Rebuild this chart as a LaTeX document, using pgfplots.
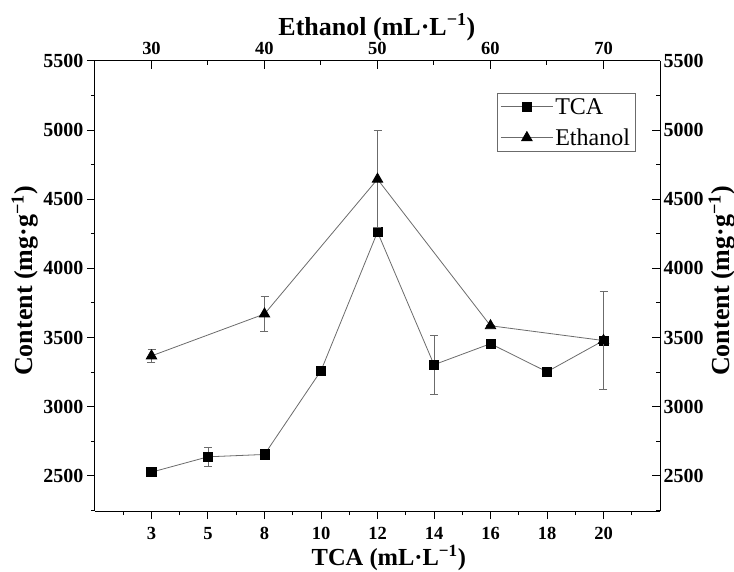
\documentclass[border=0pt]{standalone}
\usepackage{fontspec}
\setmainfont{Liberation Serif}
\usepackage{pgfplots}
\pgfplotsset{compat=1.18}
\definecolor{lc}{gray}{0.42}

\begin{document}
\begin{tikzpicture}
\path[use as bounding box] (-95pt,-60pt) rectangle (639pt,511pt);
\begin{axis}[
  at={(0pt,0pt)}, anchor=south west,
  scale only axis, width=565pt, height=450pt,
  xmin=0, xmax=10, ymin=2245, ymax=5500,
  axis x line*=bottom, axis y line*=left,
  axis line style={line width=1pt, -},
  tick align=outside,
  xtick={1,...,9}, xticklabels={3,5,8,10,12,14,16,18,20},
  minor xtick={0.5,1.5,...,9.5},
  ytick={2500,3000,...,5500}, minor ytick={2250,2750,...,5250},
  major tick length=8pt, minor tick length=4pt,
  tick style={line width=1pt, black},
  /pgf/number format/assume math mode=true,
  /pgf/number format/1000 sep={},
  xticklabel style={font=\fontsize{18.5}{18.5}\selectfont\bfseries, yshift=-5pt},
  yticklabel style={font=\fontsize{20}{20}\selectfont\bfseries},
  xlabel={TCA (mL·L\textsuperscript{−1})},
  ylabel={Content (mg·g\textsuperscript{−1})},
  label style={font=\fontsize{26}{26}\selectfont\bfseries},
  xlabel style={at={(axis description cs:0.52,-0.105)}, anchor=center, font=\fontsize{24.5}{24.5}\selectfont\bfseries},
  ylabel style={at={(axis description cs:-0.1239,0.511)}, anchor=center},
  clip=false,
]
\addplot[lc, line width=0.8pt, mark=square*, mark size=4.6pt, mark options={black, solid},
  error bars/.cd, y dir=both, y explicit,
  error bar style={lc, line width=0.8pt},
  error mark options={rotate=90, lc, mark size=4pt, line width=0.8pt}]
 coordinates {
 (1,2526) +- (0,25)
 (2,2637) +- (0,70)
 (3,2654) +- (0,20)
 (4,3260) +- (0,0)
 (5,4263) +- (0,0)
 (6,3303) +- (0,215)
 (7,3455) +- (0,25)
 (8,3252) +- (0,0)
 (9,3478) +- (0,0)
 };
\end{axis}
\begin{axis}[
  at={(0pt,0pt)}, anchor=south west,
  scale only axis, width=565pt, height=450pt,
  xmin=25, xmax=75, ymin=2245, ymax=5500,
  axis x line*=top, axis y line*=right,
  axis line style={line width=1pt, -},
  tick align=inside,
  xtick={30,40,...,70}, minor xtick={35,45,55,65},
  ytick={2500,3000,...,5500}, minor ytick={2250,2750,...,5250},
  major tick length=8pt, minor tick length=4pt,
  tick style={line width=1pt, black},
  /pgf/number format/assume math mode=true,
  /pgf/number format/1000 sep={},
  xticklabel style={font=\fontsize{18.5}{18.5}\selectfont\bfseries, yshift=3pt},
  yticklabel style={font=\fontsize{20}{20}\selectfont\bfseries},
  xlabel={Ethanol (mL·L\textsuperscript{−1})},
  ylabel={Content (mg·g\textsuperscript{−1})},
  label style={font=\fontsize{26}{26}\selectfont\bfseries},
  xlabel style={at={(axis description cs:0.499,1.075)}, anchor=center},
  ylabel style={at={(axis description cs:1.1097,0.511)}, anchor=center},
  clip=false,
  legend style={at={(rel axis cs:0.956,0.929)}, anchor=north east, draw=lc,
    font=\fontsize{24}{24}\selectfont, inner sep=3pt, row sep=9pt},
  legend cell align=left,
  legend image code/.code={\draw[mark repeat=2,mark phase=2,#1] plot coordinates {(0pt,0pt) (26pt,0pt) (52pt,0pt)};},
]
\addlegendimage{lc, line width=0.8pt, mark=square*, mark size=4.6pt, mark options={black, solid}}
\addlegendentry{TCA}
\addplot[lc, line width=0.8pt, mark=triangle*, mark size=6pt, mark options={black, solid},
  error bars/.cd, y dir=both, y explicit,
  error bar style={lc, line width=0.8pt},
  error mark options={rotate=90, lc, mark size=4pt, line width=0.8pt}]
 coordinates {
 (30,3367) +- (0,50)
 (40,3670) +- (0,125)
 (50,4645) +- (0,350)
 (60,3585) +- (0,0)
 (70,3478) +- (0,357)
 };
\addlegendentry{Ethanol}
\end{axis}
\end{tikzpicture}
\end{document}
